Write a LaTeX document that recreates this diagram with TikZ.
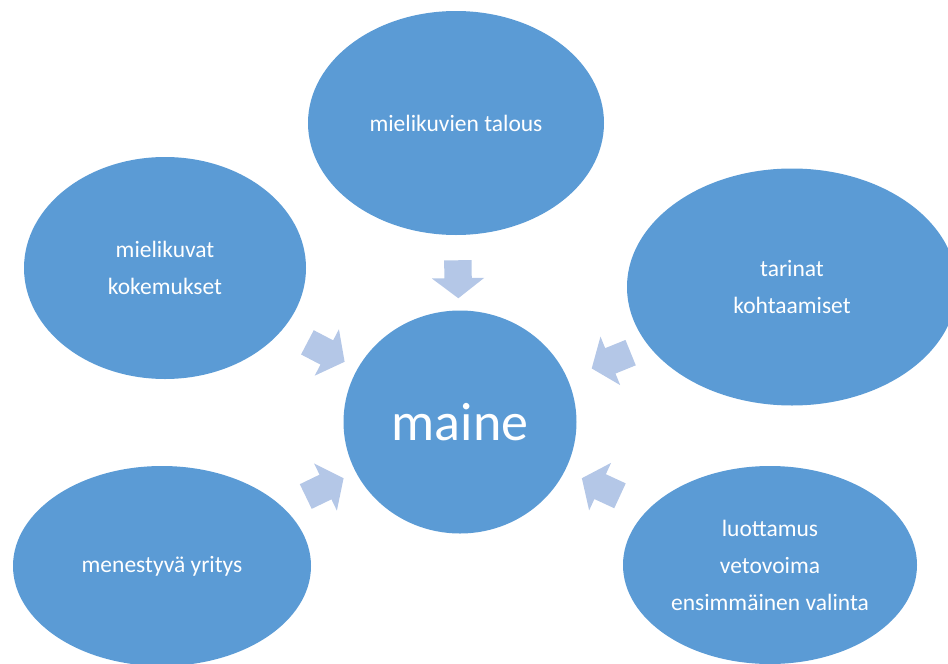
\documentclass[tikz,border=0pt]{standalone}
\usepackage{fontspec}
\setmainfont{Carlito}
\usepackage{tikz}
\usetikzlibrary{shapes.geometric, shapes.arrows, positioning}
\definecolor{bubbleblue}{HTML}{5B9BD5}
\definecolor{pointerblue}{HTML}{B4C7E7}
\tikzset{
  bubble/.style={ellipse, fill=bubbleblue, text=white, inner sep=0pt, align=center,
    font=\fontsize{23.5}{37}\selectfont},
  pointer/.style={single arrow, fill=pointerblue, inner xsep=0pt, inner ysep=13.5pt,
    minimum height=42pt, minimum width=52pt, single arrow head extend=12.5pt,
    single arrow tip angle=105, sloped, allow upside down, pos=.53}
}

\begin{document}
\begin{tikzpicture}[x=1pt, y=-1pt]
  \useasboundingbox (0,0) rectangle (948,664);
  \clip (0,0) rectangle (948,664);

  \node[bubble, minimum width=233, minimum height=223, font=\fontsize{54}{60}\selectfont] (maine) at (460,422) {maine};
  \node[bubble, minimum width=296, minimum height=224] (talous) at (456,123) {mielikuvien talous};
  \node[bubble, minimum width=282, minimum height=222] (kuvat) at (165,268) {mielikuvat\\kokemukset};
  \node[bubble, minimum width=330, minimum height=237] (tarinat) at (792,287) {tarinat\\kohtaamiset};
  \node[bubble, minimum width=298, minimum height=200] (yritys) at (162,566) {menestyvä yritys};
  \node[bubble, minimum width=294, minimum height=198] (luottamus) at (770,565) {luottamus\\vetovoima\\ensimmäinen valinta};

  % arrows towards the centre
  \path (talous.center) -- node[pointer, pos=.505, minimum height=38] (ptalous) {} (maine.center);
  \path (kuvat.center) -- node[pointer] (pkuvat) {} (maine.center);
  \path (tarinat.center) -- node[pointer] (ptarinat) {} (maine.center);
  \path (yritys.center) -- node[pointer] (pyritys) {} (maine.center);
  \path (luottamus.center) -- node[pointer] (pluottamus) {} (maine.center);
\end{tikzpicture}
\end{document}
